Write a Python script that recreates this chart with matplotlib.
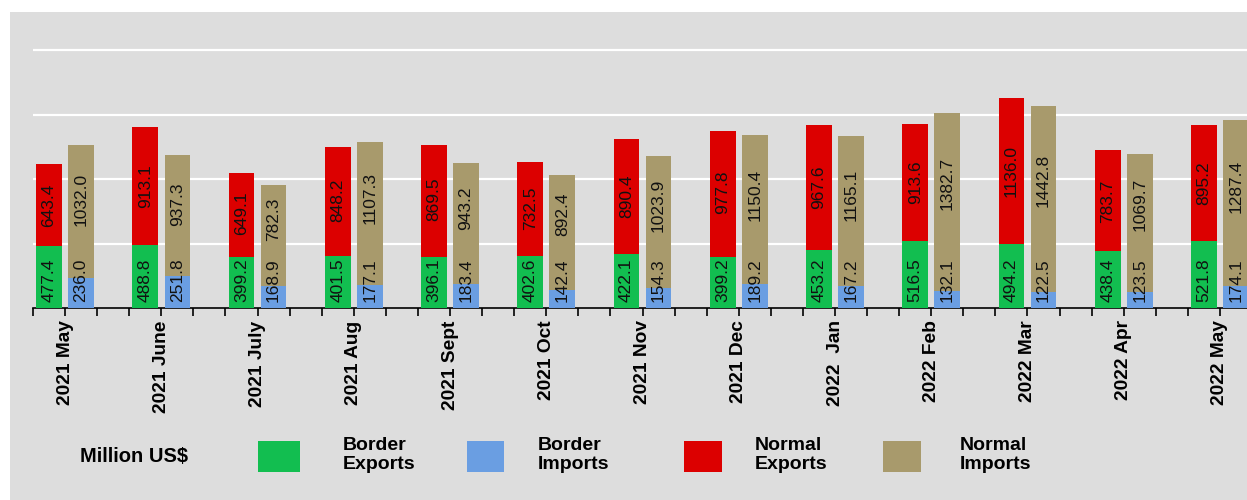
import matplotlib
matplotlib.use("Agg")
import matplotlib.pyplot as plt
from matplotlib.patches import Rectangle
import numpy as np

months = ["2021 May", "2021 June", "2021 July", "2021 Aug", "2021 Sept", "2021 Oct",
          "2021 Nov", "2021 Dec", "2022  Jan", "2022 Feb", "2022 Mar", "2022 Apr", "2022 May"]
border_exports = [477.4, 488.8, 399.2, 401.5, 396.1, 402.6, 422.1, 399.2, 453.2, 516.5, 494.2, 438.4, 521.8]
normal_exports = [643.4, 913.1, 649.1, 848.2, 869.5, 732.5, 890.4, 977.8, 967.6, 913.6, 1136.0, 783.7, 895.2]
border_imports = [236.0, 251.8, 168.9, 177.1, 183.4, 142.4, 154.3, 189.2, 167.2, 132.1, 122.5, 123.5, 174.1]
normal_imports = [1032.0, 937.3, 782.3, 1107.3, 943.2, 892.4, 1023.9, 1150.4, 1165.1, 1382.7, 1442.8, 1069.7, 1287.4]

C_GREEN = "#12be50"
C_BLUE = "#6a9ee2"
C_RED = "#dc0000"
C_BROWN = "#a89a6c"
BG = "#dddddd"

W, H = 1247, 500
fig = plt.figure(figsize=(W / 100, H / 100), dpi=100)
fig.patch.set_facecolor("white")
fig.patches.append(Rectangle((10 / W, 0), 1 - 10 / W, (H - 12) / H,
                             transform=fig.transFigure, facecolor=BG,
                             edgecolor="none", zorder=-10))

px_per_unit_x = 32.08
x0_px = 33
base_px = 308
top_px = 20
px_per_val = 0.1289

ax = fig.add_axes([x0_px / W, (H - base_px) / H, (W - x0_px) / W, (base_px - top_px) / H])
ax.set_zorder(5)
ax.set_facecolor(BG)
ax.set_xlim(0, (W - x0_px) / px_per_unit_x)
ax.set_ylim(0, (base_px - top_px) / px_per_val)

for s in ["left", "right", "top"]:
    ax.spines[s].set_visible(False)
ax.spines["bottom"].set_color("black")
ax.spines["bottom"].set_linewidth(1.2)

ax.set_yticks([500, 1000, 1500, 2000])
ax.yaxis.grid(True, color="white", linewidth=1.6)
ax.set_axisbelow(True)
ax.tick_params(axis="y", left=False, labelleft=False)

n = len(months)
idx = np.arange(n)
xe = idx * 3 + 0.5
xi = idx * 3 + 1.5
bw = 0.8

ax.bar(xe, border_exports, width=bw, color=C_GREEN, zorder=3)
ax.bar(xe, normal_exports, width=bw, bottom=border_exports, color=C_RED, zorder=3)
ax.bar(xi, border_imports, width=bw, color=C_BLUE, zorder=3)
ax.bar(xi, normal_imports, width=bw, bottom=border_imports, color=C_BROWN, zorder=3)

for i in range(n):
    for x, lo, hi in [(xe[i], border_exports[i], normal_exports[i]),
                      (xi[i], border_imports[i], normal_imports[i])]:
        ax.text(x, 50, f"{lo:.1f}", va="center", ha="left",
                rotation=90, fontsize=12.5, family="Liberation Sans",
                color="#111111", zorder=5, rotation_mode="anchor")
        total = lo + hi
        c = (total + max(lo, 420)) / 2
        ax.text(x, c, f"{hi:.1f}", va="center", ha="center",
                rotation=90, fontsize=12.5, family="Liberation Sans",
                color="#111111", zorder=5, rotation_mode="anchor")

ticks = list(range(0, 38))
labels = [""] * len(ticks)
for i, m in enumerate(months):
    labels[3 * i + 1] = m
ax.set_xticks(ticks)
ax.set_xticklabels(labels, rotation=90, fontsize=13.8, fontweight="bold",
                   family="Liberation Sans")
ax.tick_params(axis="x", direction="out", length=6, width=1.2, color="black", pad=3)

# legend
def fx(px):
    return px / W

def fy(py):
    return 1 - py / H

fig.text(fx(80), fy(457), "Million US$", fontsize=14.5, fontweight="bold",
         family="Liberation Sans", va="center", ha="left")
items = [(258, 300, C_GREEN, 343, "Border\nExports"),
         (467, 504, C_BLUE, 538, "Border\nImports"),
         (684, 722, C_RED, 755, "Normal\nExports"),
         (883, 921, C_BROWN, 960, "Normal\nImports")]
for x1, x2, col, tx, txt in items:
    fig.patches.append(Rectangle((fx(x1), fy(472)), fx(x2 - x1), (472 - 441) / H,
                                 transform=fig.transFigure, facecolor=col,
                                 edgecolor="none", zorder=2))
    fig.text(fx(tx), fy(455), txt, fontsize=14, fontweight="bold",
             family="Liberation Sans", va="center", ha="left", linespacing=1.1)

fig.savefig("out.png", dpi=100, facecolor=fig.get_facecolor())
